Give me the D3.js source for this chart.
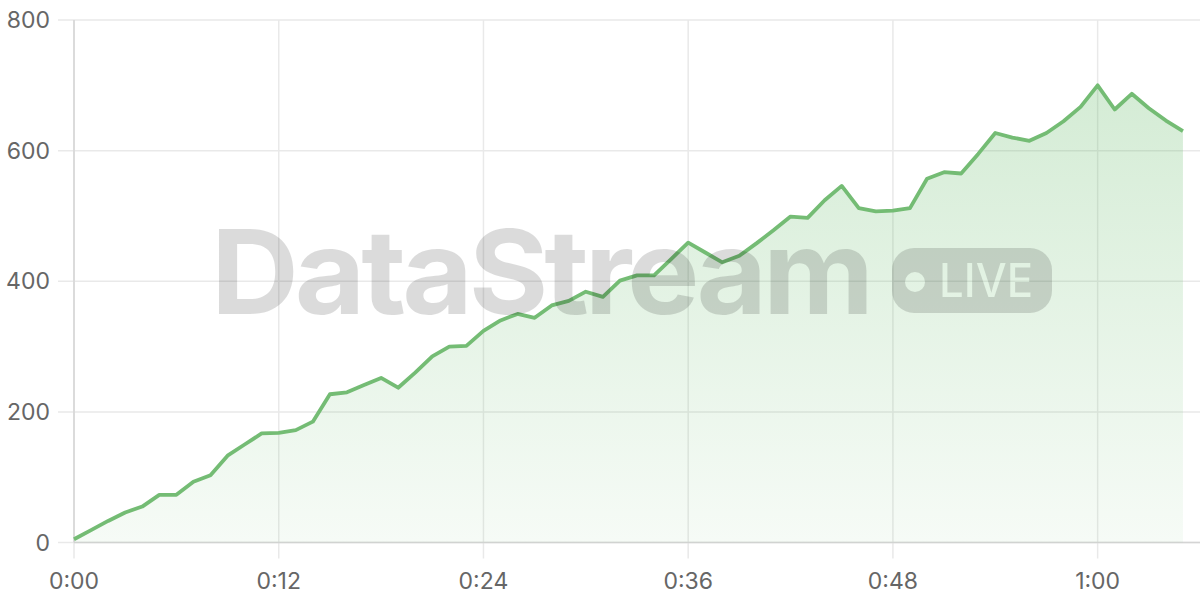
<!DOCTYPE html>
<html>
<head>
<meta charset="utf-8">
<script src="https://cdn.jsdelivr.net/npm/d3@7"></script>
<style>
  html, body { margin: 0; padding: 0; background: #fff; }
  svg { display: block; }
</style>
</head>
<body>
<div id="canvas"></div>
<script>
// create canvas svg element
const height = 600;
const width = 1200;

// data, one value per second
const seconds = d3.range(0, 66);
const values = [
  5, 19, 33, 46, 55, 73, 73, 93, 103, 133,
  150, 167, 168, 172, 185, 227, 230, 241, 252, 237,
  260, 285, 300, 301, 324, 340, 350, 344, 363, 370,
  384, 376, 401, 409, 409, 434, 459, 444, 429, 439,
  458, 478, 499, 497, 524, 546, 512, 507, 508, 512,
  557, 567, 565, 595, 627, 620, 615, 627, 645, 667,
  700, 663, 687, 665, 646, 630
];
const xTicks = [0, 12, 24, 36, 48, 60];
const yTicks = [0, 200, 400, 600, 800];

const data = seconds.map((s, i) => ({ t: s, v: values[i] }));

const canvas = d3.select('#canvas')
                .append('svg')
                .attr('height', height)
                .attr('width', width)
                .style('background-color', '#ffffff');

const margin = { top: 20, right: 0, bottom: 57.5, left: 74 };
const innerHeight = height - margin.top - margin.bottom;
const innerWidth = width - margin.left - margin.right;

const xScale = d3.scaleLinear().domain([0, 66]).range([0, innerWidth]);
const yScale = d3.scaleLinear().domain([0, 800]).range([innerHeight, 0]);

const fmt = s => `${Math.floor(s / 60)}:${String(s % 60).padStart(2, '0')}`;

// gradient for the area
const defs = canvas.append('defs');
const grad = defs.append('linearGradient')
    .attr('id', 'areaFill')
    .attr('x1', 0).attr('y1', 0).attr('x2', 0).attr('y2', 1);
grad.append('stop').attr('offset', '0%').attr('stop-color', '#4caf50').attr('stop-opacity', 0.24);
grad.append('stop').attr('offset', '100%').attr('stop-color', '#4caf50').attr('stop-opacity', 0.05);

const g = canvas.append('g')
            .attr('transform', `translate(${margin.left},${margin.top})`);

// grid lines (with tick stubs outside the plot)
g.append('g').selectAll('line')
    .data(yTicks)
    .enter().append('line')
        .attr('x1', -16).attr('x2', innerWidth)
        .attr('y1', d => yScale(d)).attr('y2', d => yScale(d))
        .attr('stroke', '#e9e9e9').attr('stroke-width', 1.5);

g.append('g').selectAll('line')
    .data(xTicks)
    .enter().append('line')
        .attr('x1', d => xScale(d)).attr('x2', d => xScale(d))
        .attr('y1', 0).attr('y2', innerHeight + 16)
        .attr('stroke', '#e9e9e9').attr('stroke-width', 1.5);

// axis lines
g.append('line')
    .attr('x1', 0).attr('x2', 0).attr('y1', 0).attr('y2', innerHeight)
    .attr('stroke', '#d4d4d4').attr('stroke-width', 1.5);
g.append('line')
    .attr('x1', 0).attr('x2', innerWidth).attr('y1', innerHeight).attr('y2', innerHeight)
    .attr('stroke', '#d4d4d4').attr('stroke-width', 1.5);

// area
const area = d3.area()
    .x(d => xScale(d.t))
    .y0(innerHeight)
    .y1(d => yScale(d.v));

g.append('path')
    .datum(data)
    .attr('d', area)
    .attr('fill', 'url(#areaFill)');

// watermark
const wm = canvas.append('g').attr('fill', '#000').attr('fill-opacity', 0.14);
wm.append('text')
    .attr('x', 211).attr('y', 314)
    .attr('font-family', 'Inter, "Noto Sans", sans-serif')
    .attr('font-weight', 700)
    .attr('font-size', 117)
    .attr('letter-spacing', -4)
    .attr('textLength', 659)
    .attr('lengthAdjust', 'spacingAndGlyphs')
    .text('DataStream');

const mask = defs.append('mask').attr('id', 'liveCut');
mask.append('rect').attr('x', 0).attr('y', 0).attr('width', width).attr('height', height).attr('fill', '#fff');
mask.append('circle').attr('cx', 915).attr('cy', 282).attr('r', 10).attr('fill', '#000');
mask.append('text')
    .attr('x', 939).attr('y', 297)
    .attr('font-family', 'Inter, "Noto Sans", sans-serif')
    .attr('font-weight', 500)
    .attr('font-size', 47)
    .attr('textLength', 94)
    .attr('lengthAdjust', 'spacingAndGlyphs')
    .attr('fill', '#000')
    .text('LIVE');

wm.append('rect')
    .attr('x', 892).attr('y', 248)
    .attr('width', 160).attr('height', 65)
    .attr('rx', 22)
    .attr('mask', 'url(#liveCut)');

// line
const line = d3.line()
    .x(d => xScale(d.t))
    .y(d => yScale(d.v));

g.append('path')
    .datum(data)
    .attr('d', line)
    .attr('fill', 'none')
    .attr('stroke', '#74bc74')
    .attr('stroke-width', 3.8)
    .attr('stroke-linejoin', 'round');

// tick labels
g.append('g').selectAll('text')
    .data(yTicks)
    .enter().append('text')
        .attr('x', -24)
        .attr('y', d => yScale(d))
        .attr('dy', '0.35em')
        .attr('text-anchor', 'end')
        .attr('font-family', 'Inter, "Noto Sans", sans-serif')
        .attr('font-size', 23)
        .attr('fill', '#666')
        .text(d => d);

g.append('g').selectAll('text')
    .data(xTicks)
    .enter().append('text')
        .attr('x', d => xScale(d))
        .attr('y', innerHeight + 46)
        .attr('text-anchor', 'middle')
        .attr('font-family', 'Inter, "Noto Sans", sans-serif')
        .attr('font-size', 23)
        .attr('fill', '#666')
        .text(d => fmt(d));
</script>
</body>
</html>
